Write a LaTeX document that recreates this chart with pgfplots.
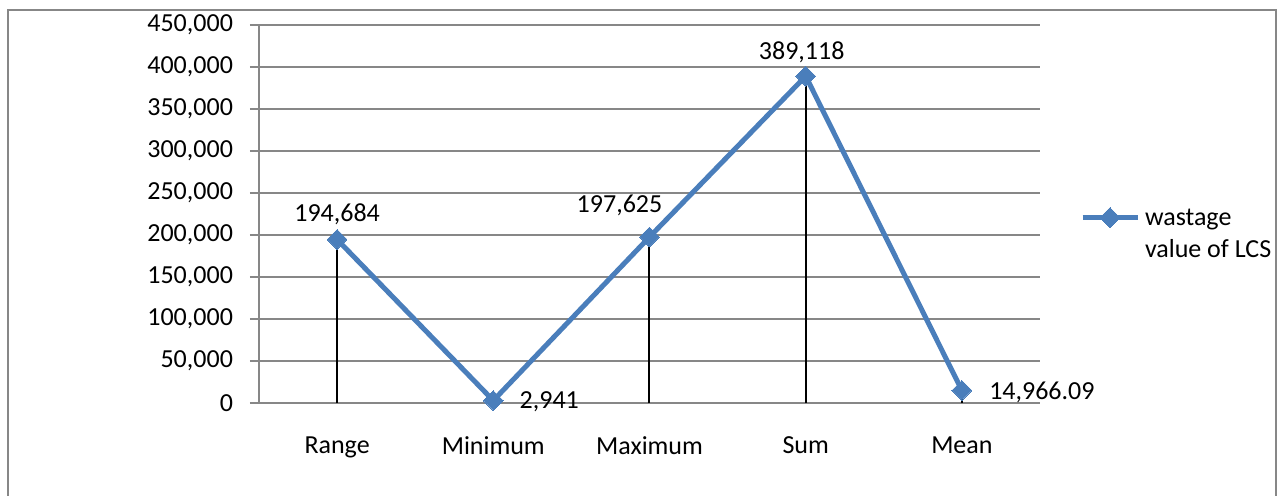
\documentclass[border=0pt]{standalone}
\usepackage{fontspec}
\setmainfont{Carlito}
\usepackage{pgfplots}
\pgfplotsset{compat=1.18}
\usepackage{pgfplotstable}

\definecolor{seriesblue}{HTML}{4A7EBB}
\definecolor{gridgray}{HTML}{878787}

% category index, value, printed label, label offset (pt)
\pgfplotstableread{
x y lbl dx dy
0 194684 194,684 0 12.5
1 2941 2,941 28 -0.8
2 197625 197,625 -15 16
3 389118 389,118 -2 12
4 14966.09 14,966.09 40 -0.8
}\lcsdata

\begin{document}
\fontsize{13}{15.6}\selectfont
\begin{tikzpicture}
\useasboundingbox (-129.5pt,-46pt) rectangle (510pt,201.5pt);
\draw[gridgray, line width=1pt] (-125.5pt,-60pt) rectangle (508.5pt,196.75pt);
\begin{axis}[
  scale only axis,
  width=390.5pt, height=189pt,
  xmin=-0.5, xmax=4.5,
  ymin=0, ymax=450000,
  xtick={0,1,2,3,4},
  xticklabels={Range,Minimum,Maximum,Sum,Mean},
  ytick={0,50000,...,450000},
  /pgf/number format/.cd, fixed, precision=0, 1000 sep={,}, assume math mode=true,
  /pgfplots/.cd,
  scaled y ticks=false,
  axis x line=bottom, axis y line=left,
  axis line style={-, draw=gridgray, line width=0.75pt},
  ymajorgrids,
  grid style={gridgray, line width=0.75pt},
  tick align=outside,
  major tick length=4.5pt,
  xtick style={draw=none},
  ytick style={gridgray, line width=0.75pt},
  xticklabel style={yshift=-8pt},
  yticklabel style={xshift=-4pt},
  legend style={draw=none, fill=none, inner sep=0pt, outer sep=0pt,
    at={(axis description cs:1,0.493)}, anchor=west, xshift=20pt,
    nodes={inner sep=0pt, anchor=base west},
    /tikz/every odd column/.append style={column sep=2.5pt}},
  legend image code/.code={
    \draw[mark repeat=2, mark phase=2, yshift=4pt]
      plot coordinates {(0pt,0pt) (13.75pt,0pt) (27.5pt,0pt)};},
]
\addplot[seriesblue, line width=2.5pt,
  mark=square*, mark size=3.5pt,
  mark options={rotate=45, solid, fill=seriesblue, draw=seriesblue, line width=0pt},
  point meta=explicit symbolic,
  visualization depends on={\thisrow{dx} \as \labeldx},
  visualization depends on={\thisrow{dy} \as \labeldy},
  nodes near coords,
  nodes near coords style={anchor=center, black, inner sep=0pt,
    xshift=\labeldx pt, yshift=\labeldy pt},
] table[x=x, y=y, meta=lbl] {\lcsdata};
\addlegendentry{\begin{tabular}[t]{@{}l@{}}wastage\\[0.5pt]value of LCS\end{tabular}}
\addplot[ycomb, black, line width=1pt, forget plot] table[x=x, y=y] {\lcsdata};
\end{axis}
\end{tikzpicture}
\end{document}
